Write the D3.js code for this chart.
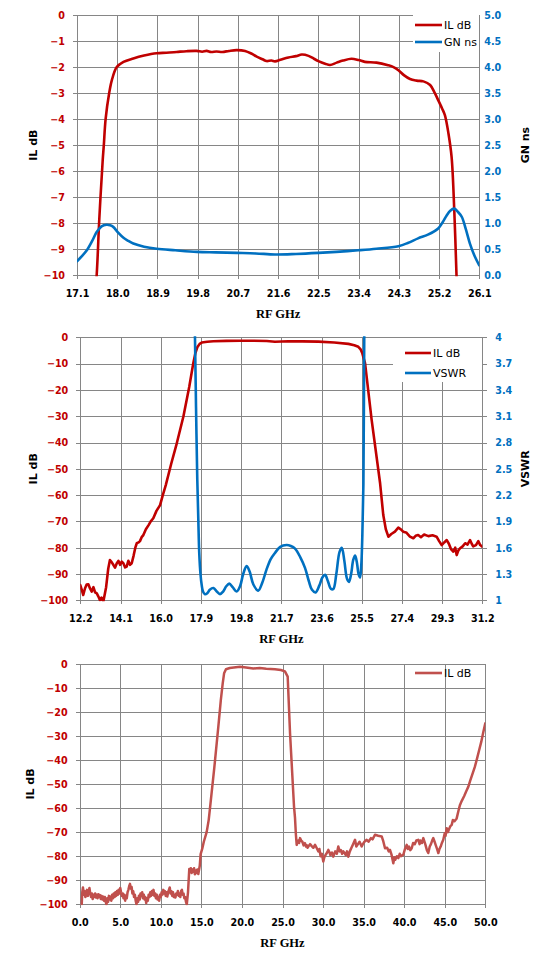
<!DOCTYPE html>
<html><head><meta charset="utf-8">
<script src="https://cdn.jsdelivr.net/npm/d3@7"></script>
<style>
html,body{margin:0;padding:0;background:#fff;}
svg{display:block;}
</style></head>
<body>
<svg id="c" width="550" height="967"></svg>
<script>
// ---------- DATA ----------
// Chart 1: passband IL (dB) and group delay (ns)
const c1XTicks = [17.1,18.0,18.9,19.8,20.7,21.6,22.5,23.4,24.3,25.2,26.1];
const c1YTicks = [0,-1,-2,-3,-4,-5,-6,-7,-8,-9,-10];
const c1RTicks = [0,0.5,1,1.5,2,2.5,3,3.5,4,4.5,5];
const c1IL = [[17.45,-12],[17.54,-10],[17.60,-7.8],[17.675,-5.58],[17.70,-5.0],[17.74,-4.0],[17.82,-3.0],[17.88,-2.5],[17.99,-2.0],[18.14,-1.80],[18.36,-1.67],[18.6,-1.56],[18.88,-1.47],[19.1,-1.45],[19.33,-1.42],[19.55,-1.39],[19.78,-1.38],[19.9,-1.41],[20.0,-1.38],[20.1,-1.42],[20.22,-1.40],[20.35,-1.42],[20.5,-1.38],[20.67,-1.35],[20.86,-1.38],[21.0,-1.48],[21.12,-1.60],[21.25,-1.70],[21.34,-1.77],[21.45,-1.75],[21.53,-1.78],[21.65,-1.72],[21.83,-1.63],[22.0,-1.58],[22.13,-1.52],[22.28,-1.57],[22.40,-1.68],[22.50,-1.77],[22.65,-1.87],[22.76,-1.92],[22.91,-1.83],[23.05,-1.75],[23.24,-1.68],[23.4,-1.73],[23.54,-1.80],[23.8,-1.83],[24.06,-1.93],[24.18,-2.0],[24.29,-2.12],[24.42,-2.32],[24.55,-2.46],[24.7,-2.52],[24.85,-2.55],[25.00,-2.69],[25.1,-2.98],[25.18,-3.27],[25.27,-3.6],[25.33,-3.85],[25.41,-4.55],[25.48,-5.45],[25.54,-7.5],[25.59,-10],[25.62,-11.5]];
const c1GN = [[17.1,0.27],[17.2,0.36],[17.32,0.48],[17.44,0.66],[17.54,0.83],[17.65,0.94],[17.76,0.97],[17.84,0.96],[17.91,0.93],[18.02,0.82],[18.14,0.72],[18.25,0.66],[18.36,0.61],[18.6,0.55],[18.88,0.51],[19.3,0.48],[19.78,0.45],[20.2,0.44],[20.67,0.43],[21.1,0.42],[21.53,0.40],[22.0,0.41],[22.5,0.43],[22.9,0.45],[23.39,0.48],[23.8,0.51],[24.29,0.56],[24.5,0.62],[24.73,0.71],[24.95,0.78],[25.18,0.90],[25.28,1.02],[25.37,1.15],[25.45,1.24],[25.54,1.28],[25.62,1.22],[25.71,1.12],[25.8,0.88],[25.89,0.61],[26.0,0.36],[26.1,0.19]];

// Chart 2: wideband IL (dB) and VSWR
const c2XTicks = [12.2,14.1,16.0,17.9,19.8,21.7,23.6,25.5,27.4,29.3,31.2];
const c2YTicks = [0,-10,-20,-30,-40,-50,-60,-70,-80,-90,-100];
const c2RTicks = [1,1.3,1.6,1.9,2.2,2.5,2.8,3.1,3.4,3.7,4];
const c2IL = [[12.2,-94.2],[12.27,-96],[12.34,-98],[12.42,-95.5],[12.5,-94],[12.58,-93.9],[12.66,-95.5],[12.74,-96.7],[12.82,-95],[12.9,-97],[12.98,-97.4],[13.05,-98.5],[13.13,-100],[13.2,-99],[13.29,-100.5],[13.42,-95],[13.52,-88],[13.6,-84.7],[13.68,-85.5],[13.76,-86.5],[13.84,-87.6],[13.92,-86],[14.0,-85],[14.08,-86.5],[14.16,-85.3],[14.24,-86],[14.32,-87.5],[14.39,-87.2],[14.47,-85],[14.55,-86.5],[14.63,-85.9],[14.72,-83],[14.8,-80],[14.87,-78.3],[14.95,-78],[15.02,-77.5],[15.1,-76],[15.18,-75.2],[15.3,-73],[15.42,-71.5],[15.53,-70],[15.65,-68.8],[15.8,-66],[15.97,-63.8],[16.1,-60],[16.24,-56.2],[16.5,-48],[16.76,-40.3],[17.07,-30.2],[17.35,-18.8],[17.54,-9.9],[17.64,-6],[17.73,-3.8],[17.84,-2.5],[17.94,-2.0],[18.2,-1.7],[18.49,-1.5],[19.1,-1.35],[19.75,-1.3],[20.4,-1.3],[21.01,-1.4],[21.4,-1.7],[22.03,-1.5],[22.7,-1.55],[23.45,-1.65],[24.2,-2.0],[24.87,-2.5],[25.15,-3.0],[25.34,-3.6],[25.45,-4.6],[25.53,-6.1],[25.66,-9.9],[25.97,-31.4],[26.37,-55.5],[26.52,-67.6],[26.64,-73],[26.76,-75.8],[26.9,-74.8],[27.07,-73.9],[27.23,-72.4],[27.35,-73],[27.46,-73.9],[27.6,-74.2],[27.78,-75.8],[27.94,-76.4],[28.05,-75.5],[28.17,-75.2],[28.3,-76],[28.45,-75],[28.65,-75.6],[28.85,-75.3],[29.04,-75.8],[29.16,-77.5],[29.28,-79],[29.4,-78],[29.52,-77.1],[29.62,-78.5],[29.72,-80.5],[29.83,-81.5],[29.92,-80],[29.99,-82.8],[30.07,-81],[30.15,-80.2],[30.27,-79.5],[30.39,-78.3],[30.5,-78.8],[30.62,-77.1],[30.7,-78.5],[30.77,-79.5],[30.9,-79],[31.01,-77.5],[31.1,-79],[31.2,-79.6]];
const c2VSWR = [[17.55,4.6],[17.62,4.0],[17.67,3.2],[17.73,2.37],[17.78,1.9],[17.82,1.55],[17.88,1.3],[17.94,1.17],[18.0,1.1],[18.09,1.07],[18.2,1.08],[18.32,1.12],[18.49,1.14],[18.65,1.1],[18.8,1.07],[18.95,1.1],[19.1,1.16],[19.24,1.19],[19.4,1.15],[19.59,1.10],[19.75,1.16],[19.9,1.3],[20.06,1.39],[20.2,1.33],[20.38,1.18],[20.61,1.11],[20.8,1.2],[21.0,1.35],[21.2,1.47],[21.4,1.54],[21.65,1.61],[21.95,1.63],[22.15,1.62],[22.35,1.59],[22.6,1.49],[22.82,1.37],[23.0,1.22],[23.15,1.12],[23.32,1.09],[23.5,1.17],[23.64,1.26],[23.77,1.29],[23.9,1.22],[24.05,1.13],[24.16,1.13],[24.3,1.3],[24.45,1.55],[24.56,1.60],[24.68,1.45],[24.8,1.25],[24.9,1.21],[25.0,1.3],[25.1,1.46],[25.19,1.51],[25.28,1.42],[25.35,1.3],[25.42,1.26],[25.48,1.4],[25.53,1.74],[25.58,2.32],[25.62,4.0],[25.65,4.6]];

// Chart 3: broadband IL (dB)
const c3XTicks = [0,5,10,15,20,25,30,35,40,45,50];
const c3YTicks = [0,-10,-20,-30,-40,-50,-60,-70,-80,-90,-100];
const c3IL = [[0.25,-100],[0.32,-95],[0.4,-93],[0.5,-96],[0.6,-94.5],[0.7,-97],[0.8,-96],[0.9,-94],[1.0,-96.5],[1.1,-95],[1.2,-93.2],[1.3,-95.5],[1.4,-97],[1.5,-95.5],[1.6,-97.8],[1.7,-96],[1.8,-97],[1.9,-95.5],[2.0,-97.2],[2.1,-96],[2.2,-97.5],[2.3,-95.8],[2.4,-97],[2.5,-96.2],[2.6,-97.8],[2.7,-96.5],[2.8,-98],[2.9,-96.8],[3.0,-98.5],[3.1,-97],[3.2,-99],[3.3,-100],[3.4,-97.5],[3.5,-99],[3.6,-96.5],[3.7,-98],[3.8,-96.8],[3.9,-98.5],[4.0,-96],[4.1,-97.5],[4.2,-95.5],[4.3,-97],[4.4,-95],[4.5,-96.5],[4.6,-94.5],[4.7,-96],[4.8,-94],[4.9,-95.5],[5.0,-93.2],[5.1,-95],[5.2,-96.5],[5.3,-95.5],[5.4,-97.5],[5.5,-96],[5.6,-98.5],[5.7,-96.5],[5.8,-97.5],[5.9,-95],[6.0,-94],[6.1,-92.5],[6.2,-91.5],[6.3,-93.5],[6.4,-92.8],[6.5,-95.5],[6.6,-94.5],[6.7,-97],[6.8,-96],[6.9,-98.5],[7.0,-100],[7.1,-97.5],[7.2,-99],[7.3,-96.5],[7.4,-98],[7.5,-95.5],[7.6,-96.5],[7.7,-95],[7.8,-97.5],[7.9,-96],[8.0,-98],[8.1,-97],[8.2,-99.5],[8.3,-97.5],[8.4,-98.5],[8.5,-96],[8.6,-97],[8.7,-95],[8.8,-96.5],[8.9,-94.5],[9.0,-96],[9.1,-94],[9.2,-96.5],[9.3,-95.5],[9.4,-97.5],[9.5,-96],[9.6,-98],[9.7,-97],[9.8,-98.5],[9.9,-96],[10.0,-97],[10.1,-95],[10.2,-96],[10.3,-94],[10.4,-95.5],[10.5,-94.5],[10.6,-96.5],[10.7,-95],[10.8,-96.8],[10.9,-95],[11.0,-94],[11.1,-93],[11.2,-95.5],[11.3,-94.5],[11.4,-96.5],[11.5,-95],[11.6,-97],[11.7,-96],[11.8,-97.2],[11.9,-95.5],[12.0,-96],[12.1,-94.5],[12.2,-96.5],[12.3,-95.5],[12.4,-97],[12.5,-94.5],[12.6,-94],[12.7,-96],[12.8,-95.5],[12.9,-97.5],[13.0,-97],[13.1,-99],[13.2,-100],[13.35,-95],[13.51,-85.3],[13.6,-86.5],[13.7,-85],[13.8,-87],[13.9,-85.5],[14.0,-86.5],[14.1,-85],[14.2,-87.5],[14.3,-86],[14.4,-87],[14.5,-85.5],[14.62,-87.4],[14.8,-84],[14.91,-79.1],[15.1,-77],[15.3,-74],[15.65,-70],[15.9,-65],[16.06,-60.1],[16.6,-43],[17.09,-26.2],[17.4,-15],[17.63,-8.2],[17.8,-4],[18.03,-2.3],[18.5,-1.8],[19.0,-1.6],[19.76,-1.3],[20.5,-1.6],[21.4,-2.0],[22.2,-1.8],[23.0,-2.1],[24.07,-2.3],[24.8,-2.6],[25.3,-3.2],[25.64,-5.4],[25.93,-28.9],[26.42,-59.4],[26.54,-64],[26.65,-71],[26.75,-75.3],[26.85,-74],[26.95,-73.5],[27.05,-74.5],[27.16,-72.5],[27.3,-73.5],[27.45,-74],[27.6,-75.5],[27.77,-74.6],[27.9,-76],[28.0,-75.5],[28.1,-76.5],[28.18,-76],[28.4,-75],[28.6,-75.8],[28.8,-76.5],[29.01,-75.3],[29.2,-76.5],[29.42,-78],[29.55,-77],[29.7,-80],[29.85,-79],[30.03,-82.2],[30.15,-80.5],[30.3,-79.5],[30.5,-78.5],[30.65,-77.4],[30.8,-78.5],[30.9,-79.5],[31.1,-78.5],[31.26,-80.2],[31.5,-78],[31.7,-79],[31.88,-76],[32.05,-78],[32.2,-77.5],[32.35,-79],[32.5,-78],[32.8,-79.5],[32.95,-78],[33.11,-80.2],[33.3,-78],[33.5,-76.5],[33.7,-75],[33.94,-73.2],[34.1,-76],[34.3,-75],[34.5,-74],[34.76,-76],[34.9,-75],[35.1,-74],[35.38,-73.2],[35.6,-74],[35.9,-72.5],[36.1,-73],[36.4,-71.1],[36.8,-71.5],[37.23,-71.8],[37.4,-73.5],[37.64,-76.7],[37.9,-76.5],[38.1,-78],[38.25,-77.4],[38.45,-79.5],[38.66,-82.9],[38.8,-80.5],[38.9,-81.5],[39.1,-80],[39.28,-80.8],[39.45,-79],[39.6,-80],[39.89,-79.4],[40.1,-77],[40.31,-75.3],[40.45,-77],[40.6,-76],[40.75,-77.5],[40.93,-76.7],[41.1,-74.5],[41.3,-75],[41.5,-73.5],[41.74,-73.2],[41.9,-75],[42.0,-73.5],[42.2,-74.5],[42.36,-72.5],[42.6,-75],[42.8,-77.5],[42.97,-78.7],[43.15,-76],[43.3,-75],[43.45,-73.5],[43.59,-72.5],[43.75,-74],[43.9,-75.5],[44.05,-77],[44.21,-78.7],[44.35,-77],[44.5,-76],[44.65,-74.5],[44.82,-73.2],[45.0,-70.5],[45.1,-71.5],[45.24,-68.4],[45.4,-70],[45.5,-69],[45.7,-67.5],[45.86,-67],[46.0,-65],[46.2,-65.5],[46.47,-64.3],[46.7,-61],[46.88,-58.7],[47.1,-57],[47.4,-55],[47.65,-53],[47.91,-51.1],[48.15,-48.5],[48.4,-46],[48.7,-43],[48.94,-40],[49.2,-36.5],[49.5,-32.5],[49.75,-28.5],[50,-24.8]];

// ---------- DRAW ----------
const RED = "#C00000", BLUE = "#0070C0", RED2 = "#C0504D", GRID = "#868686";
const TICKFONT = "'DejaVu Sans', Verdana, sans-serif";
const svg = d3.select("#c");
let clipId = 0;

function drawChart(cfg) {
  const x = d3.scaleLinear().domain(cfg.xDomain).range([cfg.left, cfg.right]);
  const y = d3.scaleLinear().domain(cfg.yDomain).range([cfg.bottom, cfg.top]);
  const g = svg.append("g");
  const h = cfg.bottom - cfg.top, w = cfg.right - cfg.left;

  // grid
  const gx = g.append("g").attr("transform", `translate(0,${cfg.bottom})`)
    .call(d3.axisBottom(x).tickValues(cfg.xTicks).tickSize(-h).tickFormat(""));
  const gy = g.append("g").attr("transform", `translate(${cfg.left},0)`)
    .call(d3.axisLeft(y).tickValues(cfg.yTicks).tickSize(-w).tickFormat(""));
  [gx, gy].forEach(a => { a.select(".domain").remove(); a.selectAll("line").attr("stroke", GRID).attr("stroke-width", 1).attr("shape-rendering","crispEdges"); });

  // bottom axis ticks + labels
  const ax = g.append("g").attr("transform", `translate(0,${cfg.bottom})`)
    .call(d3.axisBottom(x).tickValues(cfg.xTicks).tickSize(4).tickFormat(d3.format(".1f")));
  ax.select(".domain").remove();
  ax.selectAll("line").attr("stroke", GRID).attr("shape-rendering","crispEdges");
  ax.selectAll("text").attr("y", 18).attr("dy", "0.35em")
    .attr("font-family", TICKFONT).attr("font-weight", "bold").attr("font-size", "9.6px").attr("fill", "#000");

  // left axis
  const ay = g.append("g").attr("transform", `translate(${cfg.left},0)`)
    .call(d3.axisLeft(y).tickValues(cfg.yTicks).tickSize(4).tickFormat(d3.format("d")));
  ay.select(".domain").remove();
  ay.selectAll("line").attr("stroke", GRID).attr("shape-rendering","crispEdges");
  ay.selectAll("text").attr("x", -cfg.leftLabelGap).attr("dy", "0.35em").attr("text-anchor","end")
    .attr("font-family", TICKFONT).attr("font-weight", "bold").attr("font-size", "9.6px").attr("fill", cfg.leftColor);

  let y2 = null;
  if (cfg.rDomain) {
    y2 = d3.scaleLinear().domain(cfg.rDomain).range([cfg.bottom, cfg.top]);
    const ar = g.append("g").attr("transform", `translate(${cfg.right},0)`)
      .call(d3.axisRight(y2).tickValues(cfg.rTicks).tickSizeInner(cfg.rTickIn ? 5 : 0).tickSizeOuter(0).tickFormat(cfg.rFormat));
    ar.select(".domain").remove();
    ar.selectAll("line").attr("stroke", GRID).attr("shape-rendering","crispEdges")
      .attr("x1", cfg.rTickIn ? -5 : 0);
    ar.selectAll("text").attr("x", cfg.rightLabelGap).attr("dy", "0.35em").attr("text-anchor","start")
      .attr("font-family", TICKFONT).attr("font-weight", "bold").attr("font-size", "9.6px").attr("fill", BLUE);
  }

  // clip
  const cid = "clip" + (clipId++);
  svg.append("clipPath").attr("id", cid).append("rect")
    .attr("x", cfg.left).attr("y", cfg.top - 1).attr("width", w).attr("height", h + 2);
  const plot = g.append("g").attr("clip-path", `url(#${cid})`);

  // legend box (drawn under lines)
  if (cfg.legendBox) {
    const b = cfg.legendBox;
    g.append("rect").attr("x", b[0]).attr("y", b[1]).attr("width", b[2]).attr("height", b[3]).attr("fill", "#fff");
  }

  cfg.series.forEach(s => {
    const sc = s.axis === "right" ? y2 : y;
    const line = d3.line().x(d => x(d[0])).y(d => sc(d[1])).curve(s.curve);
    plot.append("path").datum(s.data).attr("d", line)
      .attr("fill", "none").attr("stroke", s.color).attr("stroke-width", s.width)
      .attr("stroke-linejoin", "round").attr("stroke-linecap", "round");
  });

  // legend
  cfg.legend.forEach(l => {
    g.append("line").attr("x1", l.x1).attr("x2", l.x2).attr("y1", l.y).attr("y2", l.y)
      .attr("stroke", l.color).attr("stroke-width", 2.6);
    g.append("text").attr("x", l.x2 + 2).attr("y", l.y).attr("dy", "0.36em")
      .attr("font-family", TICKFONT).attr("font-size", "11px").attr("fill", "#000").text(l.label);
  });

  // axis titles
  const cy = (cfg.top + cfg.bottom) / 2;
  g.append("text").attr("transform", `translate(${cfg.leftTitleX},${cy}) rotate(-90)`)
    .attr("text-anchor", "middle").attr("dy", "0.35em")
    .attr("font-family", TICKFONT).attr("font-weight", "bold").attr("font-size", "11px").text(cfg.leftTitle);
  if (cfg.rightTitle) {
    g.append("text").attr("transform", `translate(${cfg.rightTitleX},${cy}) rotate(-90)`)
      .attr("text-anchor", "middle").attr("dy", "0.35em")
      .attr("font-family", TICKFONT).attr("font-weight", "bold").attr("font-size", "11px").text(cfg.rightTitle);
  }
  g.append("text").attr("x", (cfg.left + cfg.right) / 2).attr("y", cfg.bottom + cfg.xTitleDy).attr("dy", "0.35em")
    .attr("text-anchor", "middle").attr("font-family", "'Liberation Serif', 'Times New Roman', serif")
    .attr("font-weight", "bold").attr("font-size", "12.5px").text("RF GHz");
}

const smooth = d3.curveCatmullRom.alpha(0.5);

drawChart({
  left: 77, right: 479.3, top: 15, bottom: 275.3,
  xDomain: [17.1, 26.1], yDomain: [-10, 0], xTicks: c1XTicks, yTicks: c1YTicks,
  rDomain: [0, 5], rTicks: c1RTicks, rFormat: d3.format(".1f"), rTickIn: false,
  leftColor: RED, leftLabelGap: 12, rightLabelGap: 5,
  leftTitle: "IL dB", leftTitleX: 33, rightTitle: "GN ns", rightTitleX: 525, xTitleDy: 38,
  legendBox: [413, 15, 66, 37],
  series: [
    {data: c1IL, color: RED, width: 2.6, curve: smooth},
    {data: c1GN, color: BLUE, width: 2.6, curve: smooth, axis: "right"}
  ],
  legend: [
    {x1: 415, x2: 442, y: 25, color: RED, label: "IL dB"},
    {x1: 415, x2: 442, y: 42, color: BLUE, label: "GN ns"}
  ]
});

drawChart({
  left: 80.3, right: 482.3, top: 337.3, bottom: 600.3,
  xDomain: [12.2, 31.2], yDomain: [-100, 0], xTicks: c2XTicks, yTicks: c2YTicks,
  rDomain: [1, 4], rTicks: c2RTicks, rFormat: d3.format("~g"), rTickIn: true,
  leftColor: RED, leftLabelGap: 12, rightLabelGap: 13,
  leftTitle: "IL dB", leftTitleX: 33, rightTitle: "VSWR", rightTitleX: 525, xTitleDy: 38,
  legendBox: [393, 338, 89, 44],
  series: [
    {data: c2IL, color: RED, width: 2.6, curve: d3.curveLinear},
    {data: c2VSWR, color: BLUE, width: 2.6, curve: smooth, axis: "right"}
  ],
  legend: [
    {x1: 405, x2: 431, y: 353, color: RED, label: "IL dB"},
    {x1: 405, x2: 431, y: 373, color: BLUE, label: "VSWR"}
  ]
});

drawChart({
  left: 79.7, right: 485.3, top: 663.7, bottom: 904.3,
  xDomain: [0, 50], yDomain: [-100, 0], xTicks: c3XTicks, yTicks: c3YTicks,
  rDomain: null,
  leftColor: RED, leftLabelGap: 12,
  leftTitle: "IL dB", leftTitleX: 30, xTitleDy: 38,
  legendBox: null,
  series: [
    {data: c3IL, color: RED2, width: 2.5, curve: d3.curveLinear}
  ],
  legend: [
    {x1: 415, x2: 442, y: 673, color: RED2, label: "IL dB"}
  ]
});
</script>
</body></html>
